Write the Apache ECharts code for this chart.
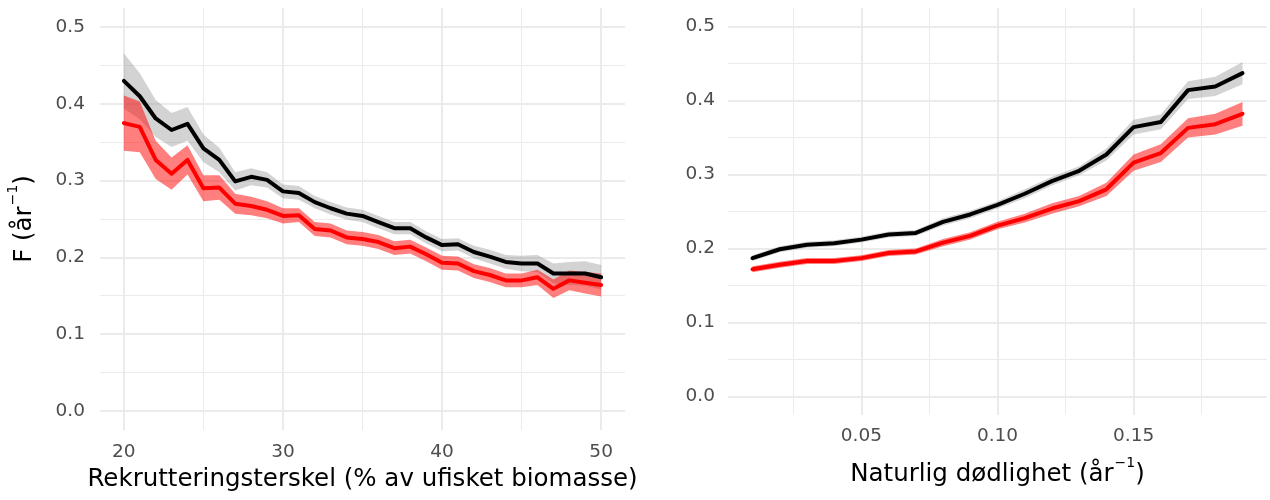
<!DOCTYPE html>
<html>
<head>
<meta charset="utf-8">
<script src="https://cdn.jsdelivr.net/npm/echarts@6.0.0/dist/echarts.min.js"></script>
<style>
html,body{margin:0;padding:0;background:#fff;}
#chart{width:1270px;height:500px;}
</style>
</head>
<body>
<div id="chart"></div>
<script>
// ---------- data ----------
const xLeft = [20,21,22,23,24,25,26,27,28,29,30,31,32,33,34,35,36,37,38,39,40,41,42,43,44,45,46,47,48,49,50];
const blackLeft = [0.430,0.410,0.381,0.366,0.374,0.342,0.327,0.299,0.305,0.301,0.286,0.284,0.272,0.264,0.257,0.254,0.246,0.238,0.238,0.226,0.216,0.217,0.207,0.201,0.194,0.192,0.192,0.179,0.179,0.179,0.174];
const blackLeftCi = [0.036,0.030,0.024,0.022,0.022,0.018,0.016,0.012,0.011,0.010,0.009,0.009,0.008,0.008,0.008,0.008,0.008,0.008,0.008,0.008,0.008,0.008,0.008,0.009,0.009,0.010,0.011,0.013,0.015,0.016,0.016];
const redLeft = [0.375,0.370,0.327,0.309,0.327,0.290,0.291,0.270,0.267,0.262,0.254,0.255,0.237,0.235,0.226,0.224,0.220,0.212,0.214,0.204,0.193,0.192,0.182,0.177,0.170,0.170,0.174,0.159,0.170,0.167,0.164];
const redLeftCi = [0.036,0.033,0.025,0.021,0.019,0.017,0.016,0.013,0.012,0.011,0.010,0.009,0.009,0.009,0.009,0.009,0.009,0.009,0.009,0.009,0.009,0.009,0.009,0.009,0.009,0.009,0.010,0.012,0.013,0.014,0.015];

const xRight = [0.01,0.02,0.03,0.04,0.05,0.06,0.07,0.08,0.09,0.10,0.11,0.12,0.13,0.14,0.15,0.16,0.17,0.18,0.19];
const blackRight = [0.187,0.199,0.205,0.207,0.212,0.219,0.221,0.236,0.246,0.259,0.274,0.291,0.305,0.327,0.364,0.371,0.414,0.419,0.437];
const blackRightCi = [0.004,0.004,0.004,0.004,0.004,0.004,0.004,0.005,0.005,0.005,0.006,0.006,0.006,0.008,0.010,0.010,0.012,0.013,0.015];
const redRight = [0.172,0.178,0.183,0.183,0.187,0.194,0.196,0.208,0.217,0.231,0.241,0.254,0.264,0.280,0.316,0.329,0.363,0.368,0.382];
const redRightCi = [0.004,0.004,0.004,0.004,0.004,0.004,0.004,0.005,0.005,0.005,0.006,0.007,0.007,0.009,0.011,0.012,0.013,0.014,0.016];

const leftXTicks = [20,30,40,50];
const leftXMinor = [25,35,45];
const rightXTicks = [0.05,0.10,0.15];
const rightXMinor = [0.025,0.075,0.125,0.175];
const yTicks = [0,0.1,0.2,0.3,0.4,0.5];
const yMinor = [0.05,0.15,0.25,0.35,0.45];

const leftXTitle = 'Rekrutteringsterskel (% av ufisket biomasse)';
const rightXTitle = 'Naturlig dødlighet (år{sup|−1})';
const yTitle = 'F (år{sup|−1})';

// ---------- styles ----------
const FONT = 'DejaVu Sans';
const labelStyle = {color:'#4D4D4D', fontFamily:FONT, fontSize:18.5};
const titleStyle = {color:'#000', fontFamily:FONT, fontSize:24.5, lineHeight:38,
  rich:{sup:{fontFamily:FONT, fontSize:14, color:'#000', verticalAlign:'top', lineHeight:14, padding:[0,0,0,1]}}};
const GRID_COLOR = '#EBEBEB';

function majorAxis(gridIndex, min, max, ticks, fmt, margin, extra) {
  return Object.assign({
    type:'value', gridIndex, min, max,
    axisLine:{show:false},
    axisTick:{show:false, customValues:ticks},
    axisLabel:Object.assign({customValues:ticks, formatter:fmt, margin}, labelStyle),
    splitLine:{show:true, lineStyle:{color:GRID_COLOR, width:2}},
    z:0
  }, extra||{});
}
function minorAxis(gridIndex, min, max, ticks, extra) {
  return Object.assign({
    type:'value', gridIndex, min, max,
    axisLine:{show:false},
    axisTick:{show:false, customValues:ticks},
    axisLabel:{show:false, customValues:ticks},
    splitLine:{show:true, lineStyle:{color:GRID_COLOR, width:1}},
    z:0
  }, extra||{});
}

function pairs(xs, ys) { return xs.map((x,i)=>[x, ys[i]]); }

// confidence ribbon drawn as one polygon through the axes' own scales
function ribbon(xi, yi, xs, ys, ci, color) {
  return {
    type:'custom', coordinateSystem:'cartesian2d', xAxisIndex:xi, yAxisIndex:yi,
    data: xs.map((x,i)=>[x, ys[i]-ci[i], ys[i]+ci[i]]),
    silent:true, z:2,
    renderItem:function(params, api){
      if (params.dataIndex !== 0) return null;
      const up = [], lo = [];
      for (let i = 0; i < xs.length; i++) {
        up.push(api.coord([xs[i], ys[i]+ci[i]]));
        lo.push(api.coord([xs[i], ys[i]-ci[i]]));
      }
      return {type:'polygon', shape:{points: up.concat(lo.reverse())}, style:{fill:color}};
    }
  };
}
function line(xi, yi, xs, ys, color) {
  return {type:'line', xAxisIndex:xi, yAxisIndex:yi, data:pairs(xs,ys), symbol:'none',
    lineStyle:{color, width:4, join:'round', cap:'round'}, silent:true, z:2};
}

const GREY_FILL = 'rgba(128,128,128,0.35)';
const RED_FILL = 'rgba(255,0,0,0.5)';

const option = {
  backgroundColor:'#fff',
  animation:false,
  grid:[
    {left:100, top:8, width:525, height:422, outerBoundsMode:'none', containLabel:false},
    {left:728, top:8, width:539, height:407, outerBoundsMode:'none', containLabel:false}
  ],
  xAxis:[
    majorAxis(0, 18.5, 51.5, leftXTicks, v=>String(v), 13, {
      name:leftXTitle, nameLocation:'middle', nameGap:31, nameMoveOverlap:false, nameTextStyle:titleStyle}),
    minorAxis(0, 18.5, 51.5, leftXMinor, {position:'bottom'}),
    majorAxis(1, 0.001, 0.199, rightXTicks, v=>v.toFixed(2), 12, {
      name:rightXTitle, nameLocation:'middle', nameGap:41, nameTextStyle:titleStyle}),
    minorAxis(1, 0.001, 0.199, rightXMinor, {position:'bottom'})
  ],
  yAxis:[
    majorAxis(0, -0.025, 0.525, yTicks, v=>v.toFixed(1), 15, {
      name:yTitle, nameLocation:'middle', nameGap:56, nameRotate:90, nameTextStyle:titleStyle}),
    minorAxis(0, -0.025, 0.525, yMinor, {position:'left'}),
    majorAxis(1, -0.025, 0.525, yTicks, v=>v.toFixed(1), 13),
    minorAxis(1, -0.025, 0.525, yMinor, {position:'left'})
  ],
  series:[
    ribbon(0, 0, xLeft, blackLeft, blackLeftCi, GREY_FILL),
    line(0, 0, xLeft, blackLeft, '#000000'),
    ribbon(0, 0, xLeft, redLeft, redLeftCi, RED_FILL),
    line(0, 0, xLeft, redLeft, '#FF0000'),
    ribbon(2, 2, xRight, blackRight, blackRightCi, GREY_FILL),
    line(2, 2, xRight, blackRight, '#000000'),
    ribbon(2, 2, xRight, redRight, redRightCi, RED_FILL),
    line(2, 2, xRight, redRight, '#FF0000')
  ]
};
const chart = echarts.init(document.getElementById('chart'), null, {renderer:'canvas'});
chart.setOption(option);
</script>
</body>
</html>
